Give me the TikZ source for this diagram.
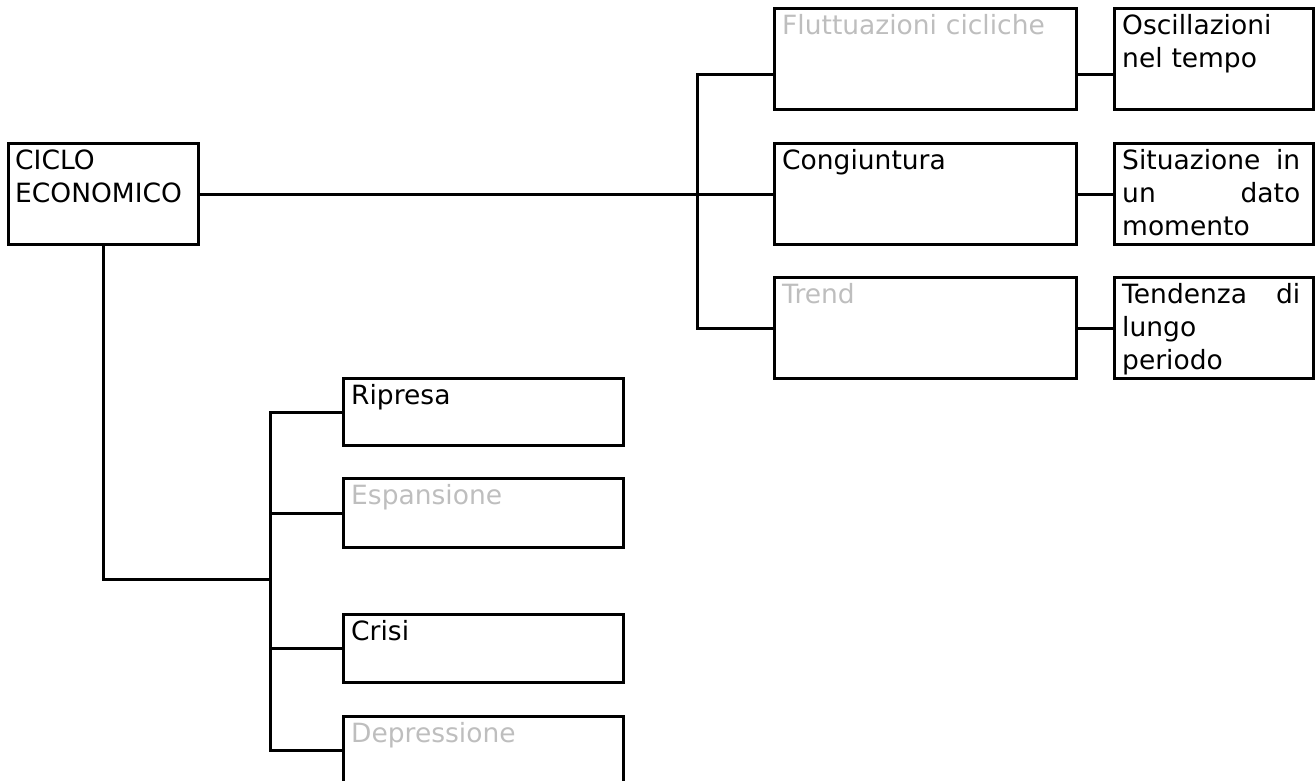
\documentclass[tikz,border=0pt]{standalone}
\usepackage{fontspec}
\setmainfont{DejaVu Sans}
\definecolor{faded}{RGB}{190,190,190}
\newcommand\jfill{\hskip 0pt plus 1filll\relax}
\newcommand\fl{\rule{0pt}{20pt}}
\begin{document}
\begin{tikzpicture}[x=1pt,y=-1pt,
  box/.style={draw, line width=3pt, inner sep=0pt, anchor=north west},
  txt/.style={anchor=north west, inner sep=0pt, align=left, text width=#1,
    font=\fontsize{26.5}{33}\selectfont},
  txt/.default=270pt,
  conn/.style={line width=3pt}]
\clip (0,0) rectangle (1315,780);
% boxes
\node[box, minimum width=190pt, minimum height=101pt] (ciclo) at (7,142) {};
\node[box, minimum width=302pt, minimum height=101pt] (flutt) at (773,7) {};
\node[box, minimum width=302pt, minimum height=101pt] (cong) at (773,142) {};
\node[box, minimum width=302pt, minimum height=101pt] (trend) at (773,276) {};
\node[box, minimum width=199pt, minimum height=101pt] (osc) at (1113,7) {};
\node[box, minimum width=199pt, minimum height=101pt] (sit) at (1113,142) {};
\node[box, minimum width=199pt, minimum height=101pt] (tend) at (1113,276) {};
\node[box, minimum width=280pt, minimum height=67pt] (ripresa) at (342,377) {};
\node[box, minimum width=280pt, minimum height=69pt] (esp) at (342,477) {};
\node[box, minimum width=280pt, minimum height=68pt] (crisi) at (342,613) {};
\node[box, minimum width=280pt, minimum height=68pt] (depr) at (342,715) {};
% texts
\node[txt=182pt] (ciclot) at (15,149) {\fl CICLO\\ECONOMICO};
\node[txt, text=faded] (fluttt) at (782,14) {\fl Fluttuazioni cicliche};
\node[txt] (congt) at (782,149) {\fl Congiuntura};
\node[txt, text=faded] (trendt) at (782,283) {\fl Trend};
\node[txt=178pt] (osct) at (1122,14) {\fl Oscillazioni\\nel tempo};
\node[txt=178pt] (sitt) at (1122,149) {\fl Situazione\jfill in\\un\jfill dato\\momento};
\node[txt=178pt] (tendt) at (1122,283) {\fl Tendenza\jfill di\\lungo\\periodo};
\node[txt] (ripresat) at (351,384) {\fl Ripresa};
\node[txt, text=faded] (espt) at (351,484) {\fl Espansione};
\node[txt] (crisit) at (351,620) {\fl Crisi};
\node[txt, text=faded] (deprt) at (351,722) {\fl Depressione};
% connectors
\coordinate (jf) at (697,74);
\coordinate (jb) at (270,579);
\draw[conn] (jf -| flutt.west) -- (jf) |- (trend.west);
\draw[conn] (ciclo.east) -- (cong.west);
\draw[conn] (jf -| flutt.east) -- (jf -| osc.west);
\draw[conn] (cong.east) -- (sit.west);
\draw[conn] (trend.east) -- (tend.west);
\draw[conn] (ciclo.south) |- (jb);
\draw[conn] (ripresa.west) -| (jb) |- (depr.west);
\draw[conn] (esp.west) -- (esp.west -| jb);
\draw[conn] (crisi.west) -- (crisi.west -| jb);
\end{tikzpicture}
\end{document}
